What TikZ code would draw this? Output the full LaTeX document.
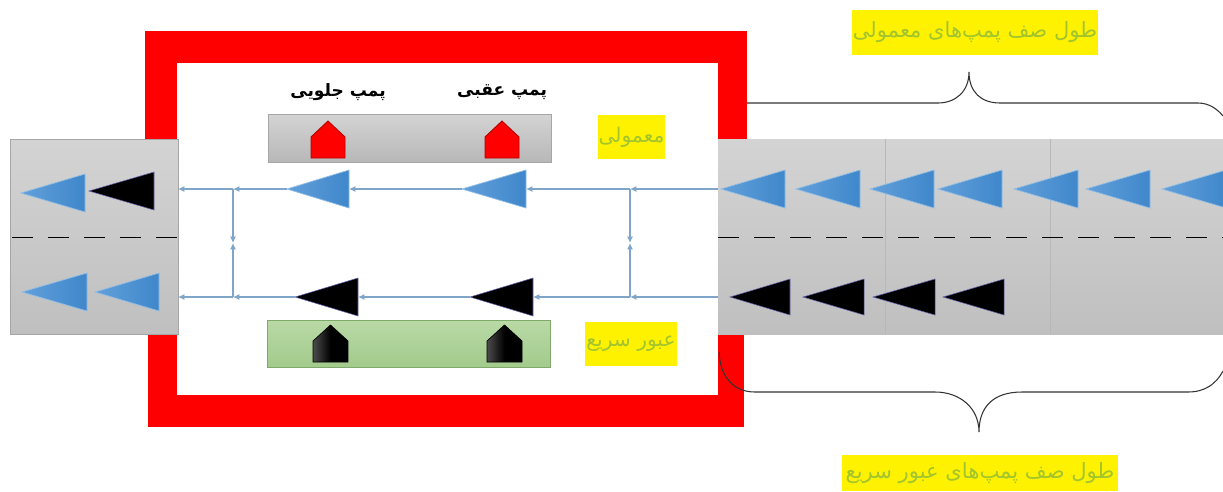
\documentclass[tikz,border=0pt]{standalone}
\usepackage{fontspec}
\usetikzlibrary{arrows.meta}
\TeXXeTstate=1
\newfontfamily\arabicfont[Script=Arabic]{DejaVu Sans}
\definecolor{flow}{HTML}{7FA6C9}
\definecolor{labelgreen}{HTML}{A2C42E}
\definecolor{blueL}{HTML}{62A0DA}
\definecolor{blueR}{HTML}{3F87CB}
\definecolor{greenT}{HTML}{B9D9A6}
\definecolor{greenB}{HTML}{A3CB8C}
\definecolor{greenE}{HTML}{7FA96A}
\tikzset{
  x=0.02cm,y=-0.02cm,
  block/.style={inner sep=0pt,outer sep=0pt,anchor=north west},
  redwall/.style={block,fill=red},
  road/.style={block,draw=black!35,line width=0.3pt,top color=black!17,bottom color=black!25},
  graybar/.style={block,draw=black!35,line width=0.3pt,top color=black!17,bottom color=black!28},
  greenbar/.style={block,draw=greenE,line width=0.5pt,top color=greenT,bottom color=greenB},
  tag/.style={block,fill=yellow,text=labelgreen,align=center},
  headtext/.style={inner sep=0pt,text=black,font=\arabicfont\bfseries\fontsize{9.7}{11}\selectfont},
  tagsmall/.style={font=\arabicfont\fontsize{11.5}{12}\selectfont},
  tagbig/.style={font=\arabicfont\fontsize{12}{13}\selectfont},
  flowline/.style={draw=flow,line width=0.65pt,-{Latex[length=3.6pt,width=3.4pt]}},
  brace/.style={draw=black!80,line width=0.6pt},
  lanemark/.style={draw=black,line width=0.55pt,dash pattern=on 12pt off 8.5pt},
  cell/.style={draw=black!28,line width=0.4pt},
  bluecar/.style={left color=blueL,right color=blueR,draw=blueL!70!white,line width=0.4pt},
  blackcar/.style={fill=black,draw=black!50!blue!60,line width=0.3pt},
  redhouse/.style={fill=red,draw=red!70!black,line width=0.5pt},
  blackhouse/.style={left color=black!70,right color=black,middle color=black,draw=black,line width=0.4pt},
}
% name, style, x0, y0, x1, y1, text
\newcommand{\rectnode}[7]{\node[#2,minimum width={(#5-#3)*0.02cm},minimum height={(#6-#4)*0.02cm}] (#1) at (#3,#4) {#7};}
% name, style, tip x, base x, centre y, half height
\newcommand{\car}[6]{\coordinate (#1-tip) at (#3,#5);\coordinate (#1-base) at (#4,#5);
  \path[#2] (#3,#5) -- (#4,#5-#6) -- (#4,#5+#6) -- cycle;}
% style, left, right, top, shoulder, bottom
\newcommand{\house}[6]{\path[#1] (#2,#6) -- (#2,#5) -- ({(#2+#3)/2},#4) -- (#3,#5) -- (#3,#6) -- cycle;}
\begin{document}
\begin{tikzpicture}
\useasboundingbox (0,0) rectangle (1223,491);
\fill[white] (0,0) rectangle (1223,491);
\begin{scope}
\clip (0,0) rectangle (1223,491);
% red frame
\rectnode{wallT}{redwall}{145}{31}{747}{160}{}
\rectnode{wallB}{redwall}{148}{320}{744}{427}{}
\rectnode{inner}{block,fill=white}{177}{63}{718}{395}{}
% queue braces
\coordinate (bt0) at (747,103);
\coordinate (btp) at (969,72);
\coordinate (bt1) at (1223,116);
\draw[brace] (bt0) -- (938,103) .. controls (955,103) and (969,92) .. (btp)
  .. controls (969,92) and (981,103) .. (1000,103) -- (1198,103) .. controls (1210,103) and (1218,110) .. (bt1);
\coordinate (bb0) at (719,352);
\coordinate (bbp) at (979,432);
\coordinate (bb1) at (1223,371);
\draw[brace] (bb0) .. controls (720,375) and (732,392) .. (755,392) -- (935,392)
  .. controls (960,392) and (979,408) .. (bbp)
  .. controls (979,408) and (992,392) .. (1022,392) -- (1188,392) .. controls (1205,392) and (1216,384) .. (bb1);
% roads
\rectnode{roadL}{road}{10}{139}{178}{334}{}
\rectnode{roadR}{road,draw=none}{718}{139}{1226}{334}{}
\draw[cell] (885,139) -- (885,334);
\draw[cell] (1050,139) -- (1050,334);
\coordinate (laneLa) at (12,237);\coordinate (laneLb) at (178,237);
\coordinate (laneRa) at (718,237);\coordinate (laneRb) at (1223,237);
\draw[lanemark] (laneLa) -- (laneLb);
\draw[lanemark] (laneRa) -- (laneRb);
% pump bars
\rectnode{barN}{graybar}{268}{114}{551}{162}{}
\rectnode{barF}{greenbar}{267}{320}{550}{367}{}
\house{redhouse}{311}{345}{121}{137}{158}
\house{redhouse}{485}{519}{121}{137}{158}
\house{blackhouse}{313}{348}{325}{341}{362}
\house{blackhouse}{487}{522}{325}{341}{362}
% cars
\car{l1}{bluecar}{21}{85}{193}{19}
\car{l2}{blackcar}{89}{154}{191}{19}
\car{l3}{bluecar}{22}{87}{292}{19}
\car{l4}{bluecar}{95}{159}{292}{19}
\car{n1}{bluecar}{287}{349}{189}{19}
\car{n2}{bluecar}{462}{526}{189}{19}
\car{f1}{blackcar}{295}{358}{297}{19}
\car{f2}{blackcar}{470}{533}{297}{19}
\car{q1}{bluecar}{721}{785}{189}{19}
\car{q2}{bluecar}{796}{860}{189}{19}
\car{q3}{bluecar}{870}{934}{189}{19}
\car{q4}{bluecar}{938}{1002}{189}{19}
\car{q5}{bluecar}{1014}{1078}{189}{19}
\car{q6}{bluecar}{1086}{1150}{189}{19}
\car{q7}{bluecar}{1162}{1226}{189}{19}
\car{r1}{blackcar}{730}{790}{297}{18}
\car{r2}{blackcar}{803}{864}{297}{18}
\car{r3}{blackcar}{873}{935}{297}{18}
\car{r4}{blackcar}{943}{1004}{297}{18}
% flow lines
\coordinate (inN) at (718,189);\coordinate (inF) at (718,297);
\coordinate (outN) at (178,189);\coordinate (outF) at (178,297);
\coordinate (jRn) at (630,189);\coordinate (jRf) at (630,297);
\coordinate (jRm) at (630,243);
\coordinate (jLn) at (233,189);\coordinate (jLf) at (233,297);
\coordinate (jLm) at (233,243);
\draw[flowline] (inN) -- (jRn);
\draw[flowline] (jRn) -- (n2-base);
\draw[flowline] (n2-tip) -- (n1-base);
\draw[flowline] (n1-tip) -- (jLn);
\draw[flowline] (jLn) -- (outN);
\draw[flowline] (inF) -- (jRf);
\draw[flowline] (jRf) -- (f2-base);
\draw[flowline] (f2-tip) -- (f1-base);
\draw[flowline] (f1-tip) -- (jLf);
\draw[flowline] (jLf) -- (outF);
\draw[flowline] (jRn) -- (jRm);
\draw[flowline] (jRf) -- (jRm);
\draw[flowline] (jLn) -- (jLm);
\draw[flowline] (jLf) -- (jLm);
% labels
\node[headtext] (lblFront) at (338,92) {\beginR پمپ جلویی\endR};
\node[headtext] (lblRear) at (502,92) {\beginR پمپ عقبی\endR};
\rectnode{tagN}{tag,tagsmall}{598}{115}{665}{159}{\beginR معمولی\endR}
\rectnode{tagF}{tag,tagsmall}{585}{322}{677}{366}{\beginR عبور سریع\endR}
\rectnode{tagQn}{tag,tagbig}{852}{10}{1098}{55}{\beginR طول صف پمپ‌های معمولی\endR}
\rectnode{tagQf}{tag,tagbig}{842}{455}{1118}{491}{\beginR طول صف پمپ‌های عبور سریع\endR}
\end{scope}
\end{tikzpicture}
\end{document}
